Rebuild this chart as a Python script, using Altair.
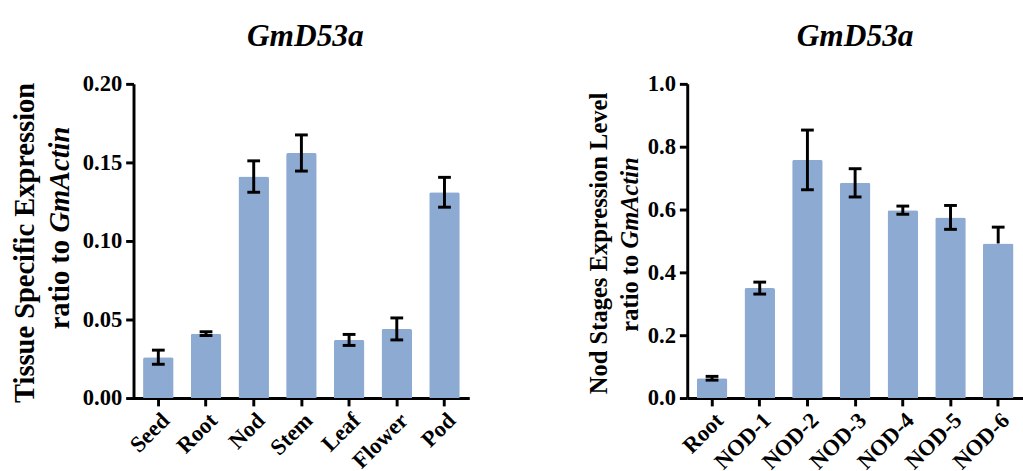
import altair as alt
import pandas as pd

# ---- data ----
tissues = ["Seed", "Root", "Nod", "Stem", "Leaf", "Flower", "Pod"]
tissue_mean = [0.026, 0.041, 0.141, 0.156, 0.037, 0.044, 0.131]
tissue_err_up = [0.0045, 0.0012, 0.010, 0.0115, 0.0035, 0.007, 0.0095]
tissue_err_down = [0.0045, 0.0012, 0.010, 0.0115, 0.0035, 0.007, 0.0095]

stages = ["Root", "NOD-1", "NOD-2", "NOD-3", "NOD-4", "NOD-5", "NOD-6"]
stage_mean = [0.063, 0.350, 0.758, 0.685, 0.598, 0.575, 0.492]
stage_err_up = [0.006, 0.019, 0.095, 0.045, 0.013, 0.038, 0.052]
stage_err_down = [0.006, 0.019, 0.095, 0.045, 0.013, 0.038, 0.0]

left_ticks = [0.0, 0.05, 0.10, 0.15, 0.20]
right_ticks = [0.0, 0.2, 0.4, 0.6, 0.8, 1.0]

TITLE = "GmD53a"
FONT = "Liberation Serif"
BAR = "#8DAAD3"
H = 320


def panel(cats, mean, up, down, ymax, ticks, fmt, width, line1, fs,
          l1x, l1y, l2x, ratio_y, gm_y, tdx):
    df = pd.DataFrame({
        "cat": cats,
        "mean": mean,
        "upper": [m + u for m, u in zip(mean, up)],
        "lower": [m - d for m, d in zip(mean, down)],
    })
    xs = alt.Scale(paddingInner=0.36, paddingOuter=0.2)
    x_axis = alt.Axis(title=None, labelAngle=-45)
    x = alt.X("cat:N", sort=cats, scale=xs, axis=x_axis)
    ys = alt.Scale(domain=[0, ymax], nice=False, zero=True)
    base = alt.Chart(df)
    bars = base.mark_bar(color=BAR, cornerRadiusTopLeft=2, cornerRadiusTopRight=2).encode(
        x=x,
        y=alt.Y("mean:Q", scale=ys, axis=alt.Axis(title=None, values=ticks, format=fmt)),
    )
    rule = base.mark_rule(color="black", strokeWidth=3).encode(
        x=alt.X("cat:N", sort=cats, title=None),
        y=alt.Y("lower:Q", title=None),
        y2="upper:Q",
    )
    cap_up = base.mark_tick(color="black", thickness=3, size=13, opacity=1).encode(
        x=alt.X("cat:N", sort=cats, title=None),
        y=alt.Y("upper:Q", title=None),
    )
    cap_dn = base.mark_tick(color="black", thickness=3, size=13, opacity=1).encode(
        x=alt.X("cat:N", sort=cats, title=None),
        y=alt.Y("lower:Q", title=None),
    ).transform_filter("datum.lower < datum.mean")

    def txt(s, x, y, align, style):
        return alt.Chart(pd.DataFrame({"t": [s]})).mark_text(
            font=FONT, fontSize=fs, fontWeight="bold", fontStyle=style,
            angle=270, align=align, baseline="alphabetic", color="black",
        ).encode(x=alt.value(x), y=alt.value(y), text="t:N")

    t1 = txt(line1, l1x, l1y, "center", "normal")
    t2 = txt("ratio to", l2x, ratio_y, "right", "normal")
    t3 = txt("GmActin", l2x, gm_y, "left", "italic")

    return alt.layer(bars, rule, cap_up, cap_dn, t1, t2, t3).properties(
        width=width, height=H,
        title=alt.TitleParams(TITLE, font=FONT, fontSize=32, fontStyle="italic",
                              fontWeight="bold", frame="group", offset=21,
                              color="black", dx=tdx),
    )


left = panel(tissues, tissue_mean, tissue_err_up, tissue_err_down, 0.2, left_ticks,
             ".2f", 342, "Tissue Specific Expression", 29,
             -101, 162, -66, 159, 151.5, 4)
right = panel(stages, stage_mean, stage_err_up, stage_err_down, 1.0, right_ticks,
              ".1f", 342, "Nod Stages Expression Level", 25,
              -81.5, 162.5, -50, 174, 167.75, 0)

chart = alt.hconcat(left, right, spacing=120).properties(
    padding={"left": 12, "top": 16, "right": 0, "bottom": 0},
).configure_view(stroke=None).configure_title(
    font=FONT, fontWeight="bold", fontStyle="italic", color="black"
).configure_axis(
    domainColor="black", domainWidth=3, tickColor="black", tickWidth=3,
    tickSize=8, labelFont=FONT, labelFontWeight="bold", labelFontSize=23,
    labelColor="black", labelPadding=4, grid=False,
).configure_axisX(labelPadding=3)

chart.save("out.html", embed_options={"renderer": "svg", "actions": False})
